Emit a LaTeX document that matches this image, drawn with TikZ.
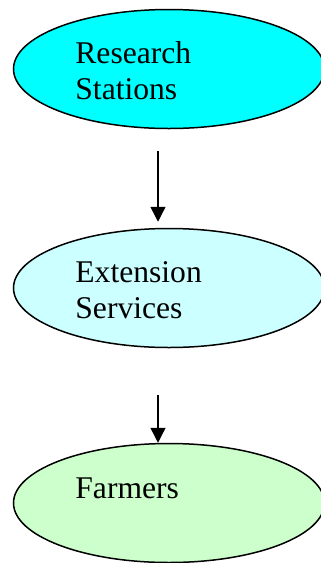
\documentclass[tikz,border=0pt]{standalone}
\usepackage{fontspec}
\setmainfont{Liberation Serif}
\usetikzlibrary{arrows.meta, positioning}
\usetikzlibrary{shapes.geometric}

\definecolor{stationcyan}{RGB}{0,255,255}
\definecolor{servicecyan}{RGB}{204,255,255}
\definecolor{farmergreen}{RGB}{204,255,204}

\begin{document}
\begin{tikzpicture}[
		x=0.5pt, y=-0.5pt,
		stage/.style={
			ellipse,
			draw,
			line width=0.75pt,
			inner sep=0pt,
			minimum width=311*0.5pt,
			minimum height=119*0.5pt
		},
		label text/.style={
			anchor=base west,
			inner sep=0pt,
			align=left,
			font=\fontsize{15.8}{17.7}\selectfont
		},
		arrow/.style={
			-{Triangle[length=7.5pt,width=7.5pt]},
			line width=0.7pt
		}
		]
		\clip (0,0) rectangle (321,563);
		
		% Nodes
		\node[stage, fill=stationcyan] (research) at (169,69) {};
		\node[label text] (researchtext) at (75,99) {Research\\Stations};
		
		\node[stage, fill=servicecyan] (extension) at (169,288) {};
		\node[label text] (extensiontext) at (75,318) {Extension\\Services};
		
		\node[stage, fill=farmergreen] (farmers) at (169,503) {};
		\node[label text] (farmerstext) at (75,498) {Farmers};
		
		% Arrows
		\coordinate (link1) at (158,151);
		\coordinate (link2) at (158,395);
		\draw[arrow, shorten >=3pt] (link1) -- (link1 |- extension.north);
		\draw[arrow] (link2) -- (link2 |- farmers.north);
		
	\end{tikzpicture}
\end{document}
